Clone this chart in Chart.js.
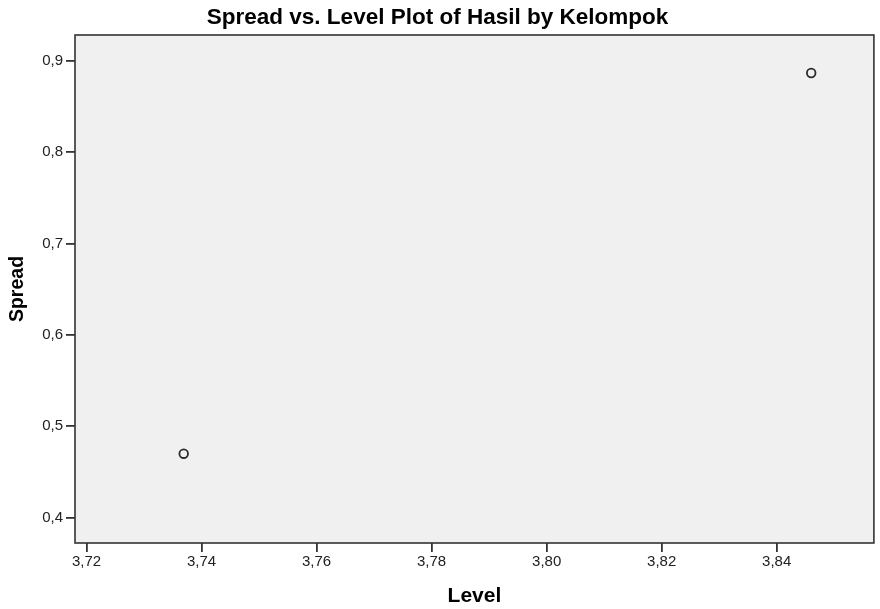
<!DOCTYPE html>
<html>
<head>
<meta charset="utf-8">
<title>Spread vs. Level Plot of Hasil by Kelompok</title>
<script src="https://cdn.jsdelivr.net/npm/chart.js@4/dist/chart.umd.min.js"></script>
<style>
    body { margin: 0; background: #ffffff; }
    #wrap { width: 880px; height: 609px; }
</style>
</head>
<body>
<div id="wrap"><canvas id="spreadChart" width="880" height="609"></canvas></div>
<script>
// values
const levelValues = [3.7369, 3.8460];
const spreadValues = [0.4700, 0.8865];

const xTickValues = [3.72, 3.74, 3.76, 3.78, 3.80, 3.82, 3.84];
const xTickLabels = ['3,72', '3,74', '3,76', '3,78', '3,80', '3,82', '3,84'];
const yTickValues = [0.4, 0.5, 0.6, 0.7, 0.8, 0.9];
const yTickLabels = ['0,4', '0,5', '0,6', '0,7', '0,8', '0,9'];

const FONT = "'Liberation Sans', Arial, sans-serif";

// grey plot background and frame around the chart area
const plotFrame = {
    id: 'plotFrame',
    beforeDatasetsDraw(chart) {
        const a = chart.chartArea;
        const ctx = chart.ctx;
        ctx.save();
        ctx.fillStyle = '#f0f0f0';
        ctx.fillRect(a.left, a.top, a.right - a.left, a.bottom - a.top);
        ctx.restore();
    },
    afterDatasetsDraw(chart) {
        const a = chart.chartArea;
        const ctx = chart.ctx;
        ctx.save();
        ctx.strokeStyle = '#333333';
        ctx.lineWidth = 1.6;
        ctx.strokeRect(a.left, a.top, a.right - a.left, a.bottom - a.top);
        ctx.restore();
    }
};

const points = levelValues.map((x, i) => ({ x: x, y: spreadValues[i] }));

new Chart(document.getElementById('spreadChart'), {
    type: 'scatter',
    data: {
        datasets: [{
            data: points,
            pointStyle: 'circle',
            pointRadius: 4.3,
            pointHoverRadius: 4.3,
            borderColor: '#2a2a2a',
            borderWidth: 1.8,
            backgroundColor: '#f0f0f0'
        }]
    },
    options: {
        responsive: false,
        animation: false,
        layout: { padding: { left: 0, right: 5, top: 0, bottom: 0 } },
        plugins: {
            legend: { display: false },
            tooltip: { enabled: false },
            title: {
                display: true,
                text: 'Spread vs. Level Plot of Hasil by Kelompok',
                color: '#000',
                font: { family: FONT, size: 22.5, weight: 'bold' },
                padding: { top: 4, bottom: 4 }
            }
        },
        scales: {
            x: {
                type: 'linear',
                min: 3.718,
                max: 3.8569,
                afterBuildTicks: s => { s.ticks = xTickValues.map(v => ({ value: v })); },
                afterFit: s => { s.height = 66; },
                ticks: {
                    color: '#222',
                    font: { family: FONT, size: 15 },
                    padding: 1,
                    maxRotation: 0,
                    callback: v => xTickLabels[xTickValues.indexOf(Number(v.toFixed(2)))]
                },
                grid: { drawOnChartArea: false, tickLength: 9, color: '#333333', lineWidth: 1.8 },
                border: { display: false },
                title: {
                    display: true,
                    text: 'Level',
                    color: '#000',
                    font: { family: FONT, size: 21, weight: 'bold' },
                    padding: { top: 0, bottom: 0 }
                }
            },
            y: {
                type: 'linear',
                min: 0.3723,
                max: 0.9281,
                afterBuildTicks: s => { s.ticks = yTickValues.map(v => ({ value: v })); },
                afterFit: s => { s.width = 75; },
                ticks: {
                    color: '#222',
                    font: { family: FONT, size: 15 },
                    padding: 3,
                    callback: v => yTickLabels[yTickValues.indexOf(Number(v.toFixed(1)))]
                },
                grid: { drawOnChartArea: false, tickLength: 9, color: '#333333', lineWidth: 1.8 },
                border: { display: false },
                title: {
                    display: true,
                    text: 'Spread',
                    color: '#000',
                    font: { family: FONT, size: 19.5, weight: 'bold' },
                    padding: { top: 6, bottom: 0 }
                }
            }
        }
    },
    plugins: [plotFrame]
});
</script>
</body>
</html>
